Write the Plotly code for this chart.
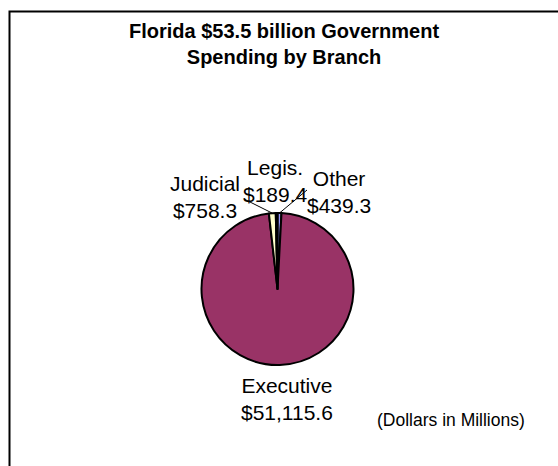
import math
import plotly.graph_objects as go

# Spending by branch, $ millions (slice order runs clockwise from 12 o'clock)
branches = ["Other", "Executive", "Judicial", "Legis."]
spending = [439.3, 51115.6, 758.3, 189.4]
colors = ["#9999FF", "#993366", "#FFFFCC", "#CCFFFF"]

W, H = 558, 466
CX, CY, R = 277.5, 289.0, 76.0   # pie centre and radius in pixels


def px(x):
    return x / W


def py(y):
    return 1 - y / H


fig = go.Figure(go.Pie(
    labels=branches,
    values=spending,
    sort=False,
    direction="clockwise",
    rotation=0,
    marker=dict(colors=colors, line=dict(color="black", width=2)),
    textinfo="none",
    hoverinfo="label+value",
    showlegend=False,
    domain=dict(x=[px(CX - R), px(CX + R)], y=[py(CY + R), py(CY - R)]),
))

# label placement (pixel centres) and optional leader-line start points
label_pos = {
    "Judicial": (205, 197),
    "Legis.": (275, 181),
    "Other": (339, 192),
    "Executive": (287, 399),
}
leader_from = {"Judicial": (244, 199), "Other": (307, 190)}

total = sum(spending)
cum = 0.0
annotations = []
shapes = []
for name, val in zip(branches, spending):
    mid = (cum + val / 2) / total * 2 * math.pi
    cum += val
    tipx = CX + R * math.sin(mid)
    tipy = CY - R * math.cos(mid)
    lx, ly = label_pos[name]
    annotations.append(dict(
        x=px(lx), y=py(ly), xref="paper", yref="paper",
        xanchor="center", yanchor="middle", showarrow=False,
        text=f"{name}<br>${val:,.1f}",
        font=dict(family="Liberation Sans, Arial", size=21, color="black"),
    ))
    if name in leader_from:
        sx, sy = leader_from[name]
        shapes.append(dict(
            type="line", xref="paper", yref="paper",
            x0=px(sx), y0=py(sy), x1=px(tipx), y1=py(tipy),
            line=dict(color="black", width=1),
        ))

annotations.append(dict(
    x=px(284), y=py(44), xref="paper", yref="paper",
    xanchor="center", yanchor="middle", showarrow=False,
    text="<b>Florida $53.5 billion Government<br>Spending by Branch</b>",
    font=dict(family="Liberation Sans, Arial", size=20, color="black"),
))
annotations.append(dict(
    x=px(451), y=py(420), xref="paper", yref="paper",
    xanchor="center", yanchor="middle", showarrow=False,
    text="(Dollars in Millions)",
    font=dict(family="Liberation Sans, Arial", size=17.5, color="black"),
))

# chart frame
shapes.append(dict(
    type="rect", xref="paper", yref="paper",
    x0=px(9.5), x1=px(W + 20), y0=py(H + 20), y1=py(11.5),
    line=dict(color="black", width=2), fillcolor="rgba(0,0,0,0)",
))

fig.update_layout(
    width=W, height=H,
    margin=dict(l=0, r=0, t=0, b=0),
    paper_bgcolor="white", plot_bgcolor="white",
    annotations=annotations, shapes=shapes,
)

fig.write_html("out.html")
